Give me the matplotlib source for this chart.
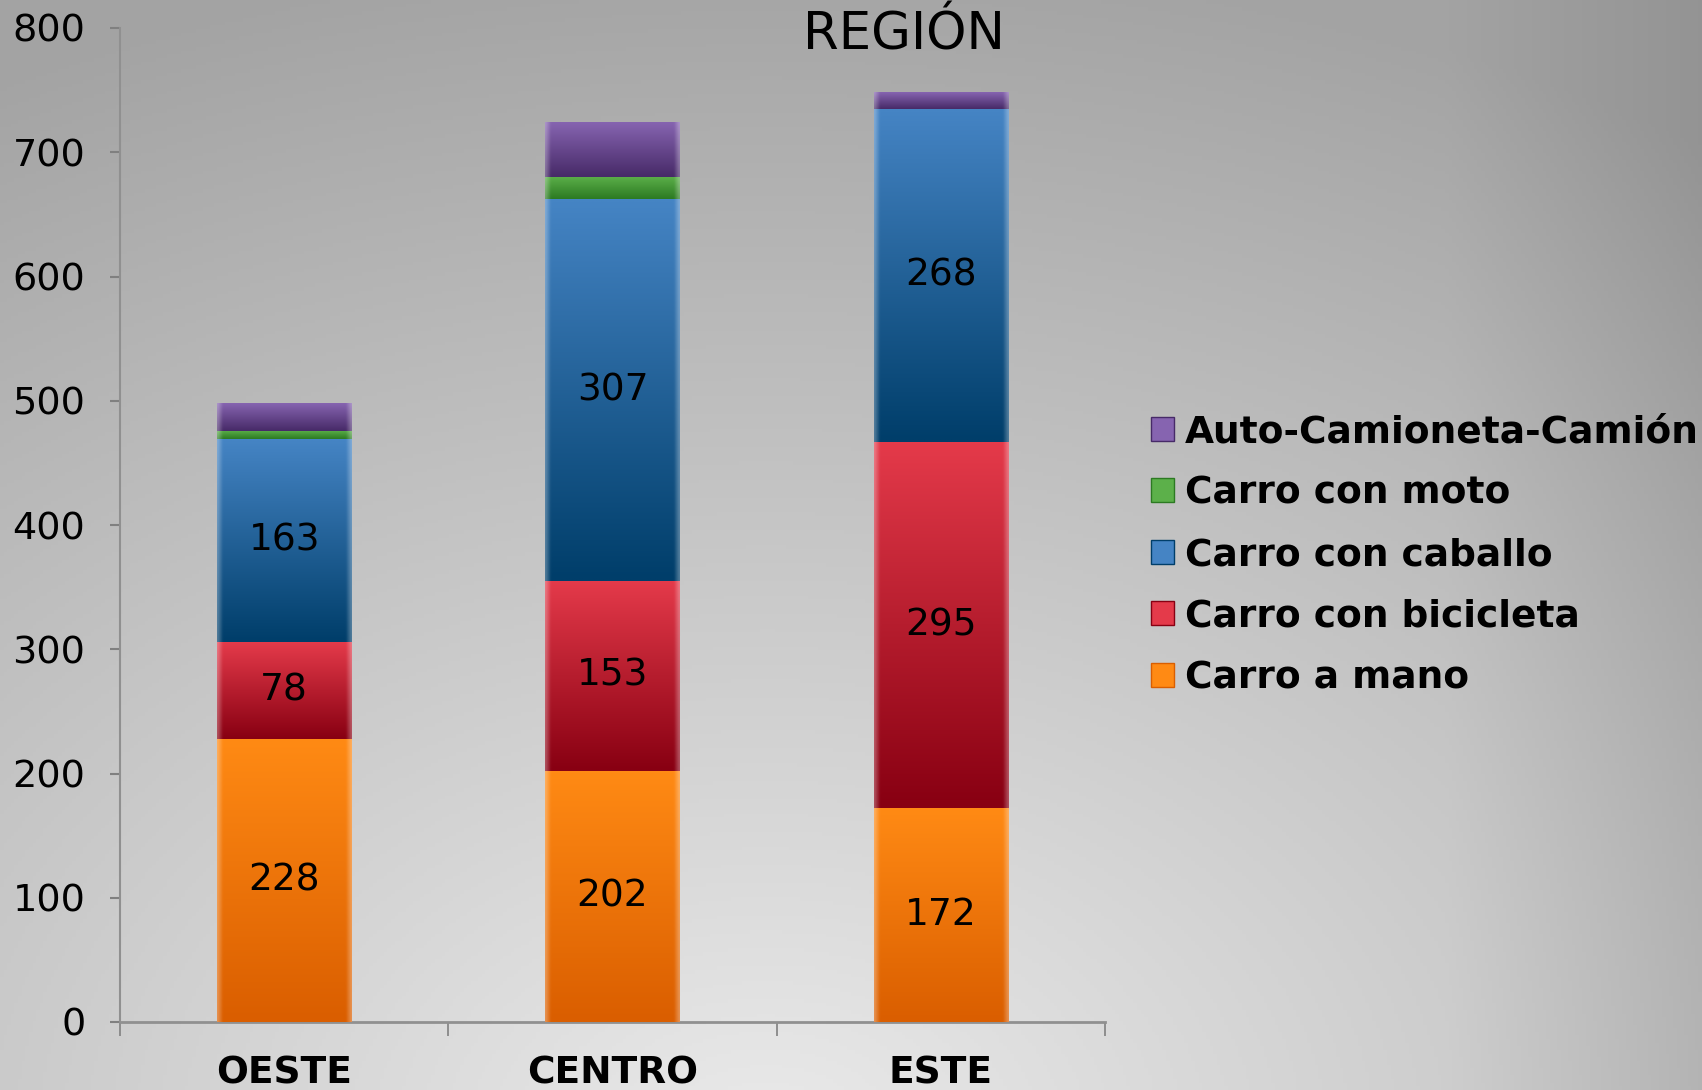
import matplotlib.pyplot as plt
import numpy as np
from matplotlib.colors import to_rgb
from matplotlib.patches import Patch

# data
regiones = ['OESTE', 'CENTRO', 'ESTE']
series = ['Carro a mano', 'Carro con bicicleta', 'Carro con caballo',
          'Carro con moto', 'Auto-Camioneta-Camión']
carro_mano = [228, 202, 172]
carro_bici = [78, 153, 295]
carro_caballo = [163, 307, 268]
carro_moto = [7, 18, 0]
auto_camion = [22, 44, 13]
valores = [carro_mano, carro_bici, carro_caballo, carro_moto, auto_camion]
mostrar_etiqueta = [True, True, True, False, False]

# colores (arriba, abajo)
colores = [('#FF8A14', '#DA5E00'),
           ('#E43A4A', '#880012'),
           ('#4584C4', '#003E6A'),
           ('#5CB04A', '#2C7A22'),
           ('#8664B0', '#472A68')]

fig = plt.figure(figsize=(17.02, 10.9), dpi=100)

# fondo degradado
bg = fig.add_axes([0, 0, 1, 1], zorder=-10)
bg.set_axis_off()
yy, xx = np.mgrid[0:1:300j, 0:1:470j]
d = np.sqrt(((xx - 0.45) / 1.0) ** 2 + ((yy - 1.05) / 1.1) ** 2)
g = np.clip(0.92 - 0.28 * d, 0.64, 0.92)
g = g - 0.06 * np.clip((xx - 0.85) / 0.15, 0, 1)
img = np.dstack([g, g, g])
bg.imshow(img, extent=[0, 1, 0, 1], origin='upper', aspect='auto')
bg.set_xlim(0, 1)
bg.set_ylim(0, 1)

ax = fig.add_axes([120 / 1702, 1 - 1022 / 1090, (1105 - 120) / 1702, (1022 - 28) / 1090])
ax.patch.set_alpha(0)

x = np.arange(len(regiones))
ancho = 0.41
base = np.zeros(len(regiones))
for i, vals in enumerate(valores):
    top_c, bot_c = colores[i]
    bars = ax.bar(x, vals, ancho, bottom=base, color=top_c, linewidth=0, zorder=2)
    for b, v, b0 in zip(bars, vals, base):
        if v <= 0:
            continue
        # degradado vertical con bordes biselados
        t = np.linspace(0, 1, 60)[:, None]
        s = np.linspace(0, 1, 80)[None, :]
        c0 = np.array(to_rgb(top_c))
        c1 = np.array(to_rgb(bot_c))
        rgb = c0[None, None, :] * (1 - t[..., None]) + c1[None, None, :] * t[..., None]
        rgb = np.broadcast_to(rgb, (60, 80, 3)).copy()
        edge = np.clip(1 - np.minimum(s, 1 - s) / 0.04, 0, 1)[..., None]
        rgb = rgb * (1 - 0.3 * edge) + 0.3 * edge
        ax.imshow(rgb, extent=[b.get_x(), b.get_x() + b.get_width(), b0, b0 + v],
                  origin='upper', aspect='auto', zorder=3, clip_path=b, interpolation='bilinear')
        if mostrar_etiqueta[i]:
            ax.text(b.get_x() + b.get_width() / 2, b0 + v / 2, str(v),
                    ha='center', va='center', fontsize=27, color='black', zorder=5)
    base = base + np.array(vals)

ax.set_xlim(-0.5, 2.5)
ax.set_ylim(0, 800)
ax.set_yticks(range(0, 801, 100))
ax.tick_params(axis='y', labelsize=27.5, length=7, color='#808080', width=1.5, pad=18)
ax.set_xticks(x)
ax.set_xticklabels(regiones, fontsize=27, fontweight='bold')
ax.set_xticks([-0.5, 0.5, 1.5, 2.5], minor=True)
ax.tick_params(axis='x', which='major', length=0, pad=24)
ax.tick_params(axis='x', which='minor', length=10, color='#808080', width=1.2)
for sp in ['top', 'right']:
    ax.spines[sp].set_visible(False)
ax.spines['left'].set_color('#909090')
ax.spines['bottom'].set_color('#909090')
ax.spines['left'].set_linewidth(1.5)
ax.spines['bottom'].set_linewidth(2)

fig.text(904 / 1702, 1 - 49 / 1090, 'REGIÓN', ha='center', va='baseline', fontsize=37)

handles = [Patch(facecolor=colores[i][0], edgecolor=colores[i][1], linewidth=1)
           for i in range(len(series))][::-1]
leg = fig.legend(handles, series[::-1], loc='upper left',
                 bbox_to_anchor=(1151 / 1702, 1 - 414 / 1090), frameon=False,
                 prop={'size': 27, 'weight': 'bold'}, handlelength=0.6,
                 handleheight=0.6, handletextpad=0.3, labelspacing=0.68,
                 borderaxespad=0, borderpad=0)

plt.savefig('out.png', dpi=100)
